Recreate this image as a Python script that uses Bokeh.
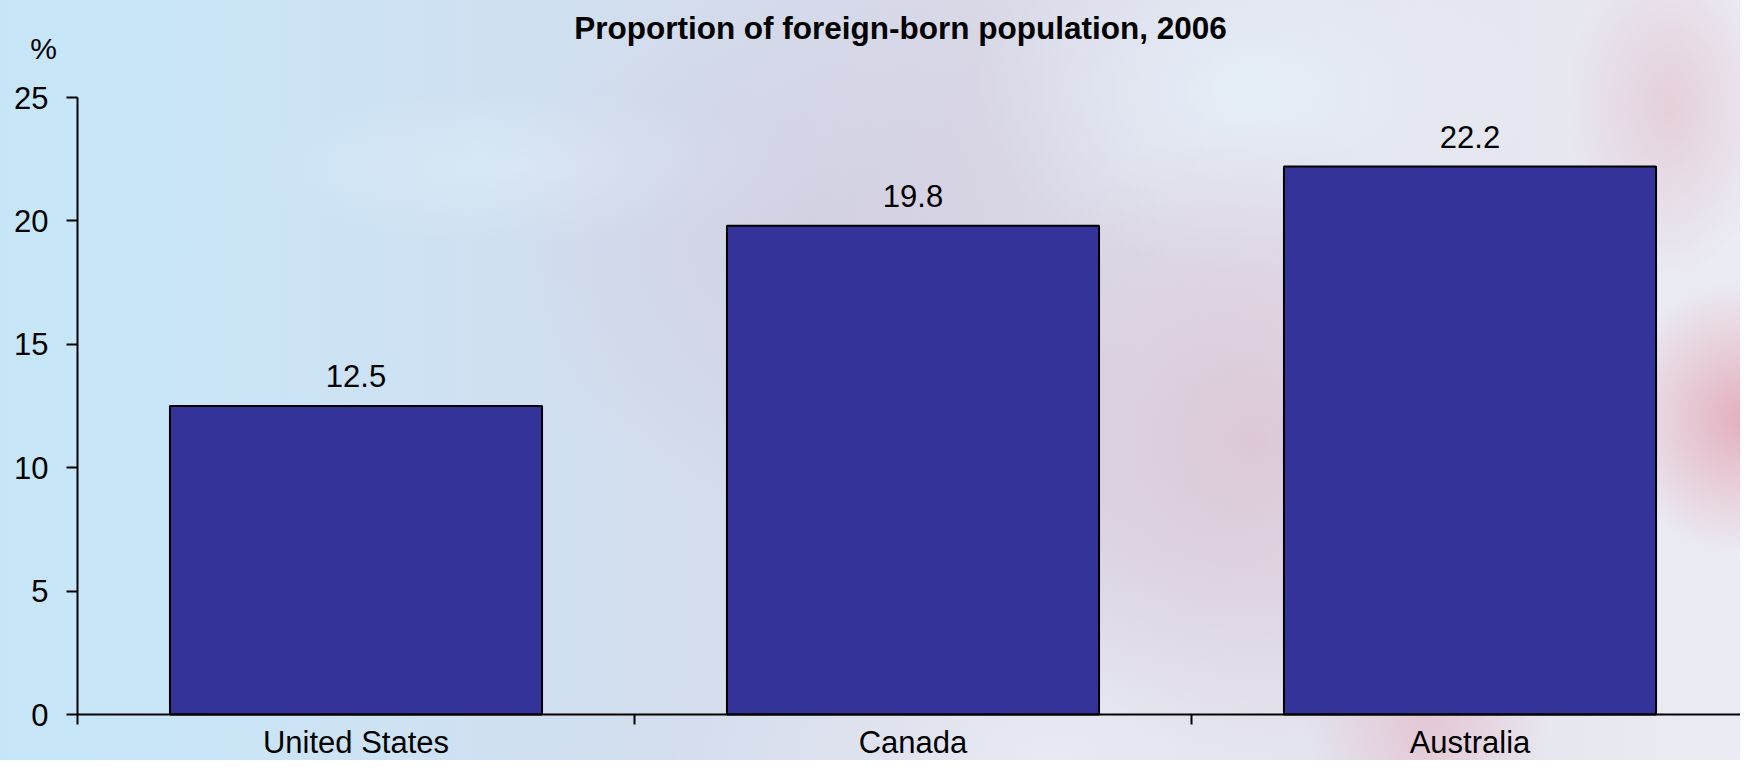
from bokeh.plotting import figure
from bokeh.models import Range1d, FixedTicker, LabelSet, Label, ColumnDataSource
from bokeh.core.properties import value
from bokeh.embed import file_html
from bokeh.resources import INLINE

# ---- data ----
categories = ["United States", "Canada", "Australia"]
values = [12.5, 19.8, 22.2]
value_labels = ["12.5", "19.8", "22.2"]
y_ticks = [0, 5, 10, 15, 20, 25]
y_max = 25
title_text = "Proportion of foreign-born population, 2006"
unit_text = "%"

FONT = "Liberation Sans"

# ---- layout (pixels) ----
W, H = 1740, 760
AXIS_X_PX = 77          # where x = 0 falls
CAT_PX = 557            # width of one category
ZERO_Y_PX = 714         # where y = 0 falls (from top)
TOP_Y_PX = 97           # where y = y_max falls (from top)

ppu_y = (ZERO_Y_PX - TOP_Y_PX) / y_max
x_range = Range1d(-AXIS_X_PX / CAT_PX, (W - AXIS_X_PX) / CAT_PX)
y_range = Range1d(-(H - ZERO_Y_PX) / ppu_y, ZERO_Y_PX / ppu_y)

x_pos = [i + 0.5 for i in range(len(categories))]
src = ColumnDataSource(dict(x=x_pos, top=values, label=value_labels))

p = figure(
    width=W, height=H,
    output_backend="svg", toolbar_location=None,
    x_range=x_range, y_range=y_range,
    min_border_left=0, min_border_right=0, min_border_top=0, min_border_bottom=0,
)
p.title.visible = False

p.background_fill_alpha = 0
p.border_fill_alpha = 0
p.outline_line_color = None
p.xgrid.visible = False
p.ygrid.visible = False

p.styles = {
    "background-image": (
        "radial-gradient(ellipse 7% 18% at 100% 55%, rgba(222,128,148,0.55), rgba(222,128,148,0) 100%),"
        "radial-gradient(ellipse 6% 22% at 96% 14%, rgba(220,168,184,0.40), rgba(220,168,184,0) 100%),"
        "radial-gradient(ellipse 7% 30% at 82% 92%, rgba(228,160,178,0.45), rgba(228,160,178,0) 100%),"
        "radial-gradient(ellipse 16% 42% at 72% 58%, rgba(216,172,190,0.45), rgba(216,172,190,0) 100%),"
        "radial-gradient(ellipse 16% 24% at 72% 12%, rgba(230,241,250,0.80), rgba(230,241,250,0) 100%),"
        "radial-gradient(ellipse 22% 30% at 60% 100%, rgba(236,240,248,0.70), rgba(236,240,248,0) 100%),"
        "radial-gradient(ellipse 20% 36% at 47% 32%, rgba(206,196,216,0.45), rgba(206,196,216,0) 100%),"
        "radial-gradient(ellipse 16% 10% at 30% 22%, rgba(226,238,248,0.55), rgba(226,238,248,0) 100%),"
        "linear-gradient(90deg, #c6e6f8 0%, #c8e6f8 8%, #cde2f3 22%, #d3dded 40%, #d9d8e7 56%, #e0e0ec 72%, #ebebf3 100%)"
    )
}

p.vbar(x="x", top="top", bottom=0, width=0.668, source=src,
       fill_color="#333399", line_color="black", line_width=2)

labels = LabelSet(x="x", y="top", text="label", source=src,
                  text_align="center", text_baseline="alphabetic", y_offset=19,
                  text_font=value(FONT), text_font_size="31px", text_color="black")
p.add_layout(labels)

title = Label(x=900, y=H - 27, x_units="screen", y_units="screen", text=title_text,
              text_align="center", text_baseline="alphabetic",
              text_font=FONT, text_font_size="31.5px", text_font_style="bold",
              text_color="black")
p.add_layout(title)

unit = Label(x=43, y=H - 48, x_units="screen", y_units="screen", text=unit_text,
             text_align="center", text_baseline="alphabetic",
             text_font=FONT, text_font_size="30px", text_color="black")
p.add_layout(unit)

# y axis (drawn at x = 0)
ya = p.yaxis[0]
ya.fixed_location = 0
ya.bounds = (0, y_max)
ya.ticker = FixedTicker(ticks=y_ticks, minor_ticks=[])
ya.axis_line_color = "black"
ya.axis_line_width = 2
ya.major_tick_line_color = "black"
ya.major_tick_line_width = 2
ya.major_tick_out = 11
ya.major_tick_in = 0
ya.minor_tick_out = 0
ya.minor_tick_in = 0
ya.major_label_standoff = 18
ya.major_label_text_font = FONT
ya.major_label_text_font_size = "31px"
ya.major_label_text_color = "black"

# x axis (drawn at y = 0), ticks between the categories
xa = p.xaxis[0]
xa.fixed_location = 0
xa.bounds = (0, len(categories))
xa.ticker = FixedTicker(ticks=x_pos, minor_ticks=list(range(len(categories) + 1)))
xa.major_label_overrides = {x: c for x, c in zip(x_pos, categories)}
xa.axis_line_color = "black"
xa.axis_line_width = 2
xa.major_tick_out = 0
xa.major_tick_in = 0
xa.minor_tick_line_color = "black"
xa.minor_tick_line_width = 2
xa.minor_tick_out = 10
xa.minor_tick_in = 0
xa.major_label_standoff = 0
xa.major_label_text_font = FONT
xa.major_label_text_font_size = "31px"
xa.major_label_text_color = "black"

open("out.html", "w").write(file_html(p, INLINE))
